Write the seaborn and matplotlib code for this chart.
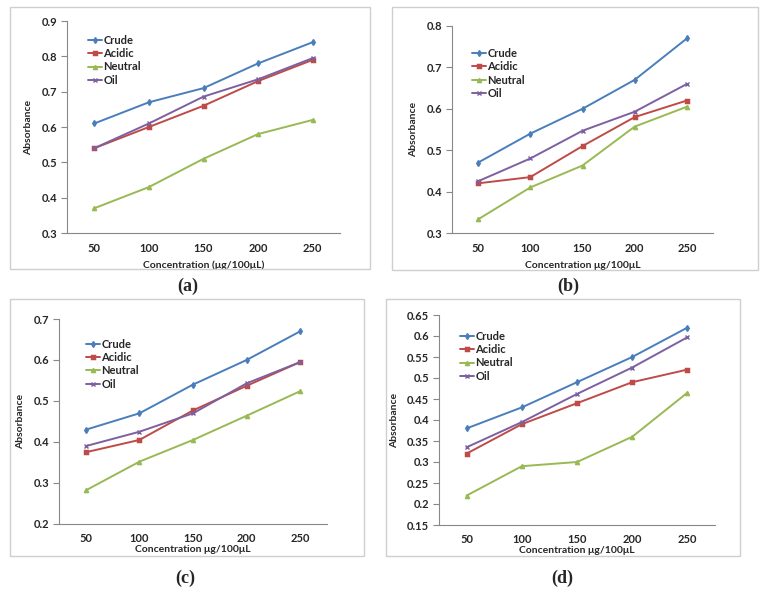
import pandas as pd
import matplotlib
matplotlib.use("Agg")
import matplotlib.pyplot as plt
from matplotlib.patches import Rectangle
from matplotlib.ticker import FuncFormatter
import seaborn as sns

sns.set_style("white")
plt.rcParams['font.family'] = ['Lato', 'DejaVu Sans']

concentrations = ["50", "100", "150", "200", "250"]
series_names = ["Crude", "Acidic", "Neutral", "Oil"]

crude_a = [0.61, 0.67, 0.71, 0.78, 0.84]
acidic_a = [0.54, 0.60, 0.66, 0.73, 0.79]
neutral_a = [0.37, 0.43, 0.51, 0.58, 0.62]
oil_a = [0.54, 0.61, 0.686, 0.735, 0.795]

crude_b = [0.47, 0.54, 0.60, 0.67, 0.77]
acidic_b = [0.42, 0.435, 0.51, 0.58, 0.62]
neutral_b = [0.333, 0.41, 0.463, 0.557, 0.605]
oil_b = [0.425, 0.48, 0.547, 0.593, 0.66]

crude_c = [0.43, 0.47, 0.54, 0.60, 0.67]
acidic_c = [0.375, 0.405, 0.477, 0.537, 0.595]
neutral_c = [0.282, 0.352, 0.405, 0.464, 0.524]
oil_c = [0.39, 0.425, 0.47, 0.543, 0.595]

crude_d = [0.38, 0.43, 0.49, 0.55, 0.62]
acidic_d = [0.32, 0.39, 0.44, 0.49, 0.52]
neutral_d = [0.22, 0.29, 0.30, 0.36, 0.465]
oil_d = [0.335, 0.395, 0.462, 0.525, 0.597]

colors = ["#4A7EBB", "#BE4B48", "#98B954", "#7D60A0"]
markers = ["d", "s", "^", "x"]

W, H = 761, 592

# panel: (data, y range, y step, xlabel, axes box px (l, t, r, b), legend anchor,
#         frame px, label, label pos, tick pad, xlabel pad)
panels = [
    ([crude_a, acidic_a, neutral_a, oil_a], (0.3, 0.9), 0.1, "Concentration (\u03bcg/100\u03bcL)",
     (67, 21, 340, 233), (0.055, 0.96), (10, 7, 370, 269), "(a)", (188, 286), 7.5, 4.5),
    ([crude_b, acidic_b, neutral_b, oil_b], (0.3, 0.8), 0.1, "Concentration \u03bcg/100\u03bcL",
     (452, 26, 713, 233), (0.055, 0.92), (392, 7, 758, 270), "(b)", (568, 286), 7.5, 4.5),
    ([crude_c, acidic_c, neutral_c, oil_c], (0.2, 0.7), 0.1, "Concentration \u03bcg/100\u03bcL",
     (59, 319, 327, 524), (0.08, 0.93), (10, 299, 364, 556), "(c)", (185, 578), 6.5, 1.0),
    ([crude_d, acidic_d, neutral_d, oil_d], (0.15, 0.65), 0.05, "Concentration \u03bcg/100\u03bcL",
     (439, 315, 715, 525), (0.055, 0.95), (386, 299, 740, 556), "(d)", (562, 578), 6.5, 1.0),
]

fig = plt.figure(figsize=(W / 100, H / 100), dpi=100)

for data, (ymin, ymax), step, xlabel, box, anchor, frame, label, lpos, tpad, xpad in panels:
    fl, ft, fr, fb = frame
    fig.patches.append(Rectangle((fl / W, 1 - fb / H), (fr - fl) / W, (fb - ft) / H,
                                 transform=fig.transFigure, fill=False,
                                 edgecolor="#cfcfcf", linewidth=1.0))
    l, t, r, b = box
    ax = fig.add_axes([l / W, 1 - b / H, (r - l) / W, (b - t) / H])

    rows = []
    for name, vals in zip(series_names, data):
        for c, v in zip(concentrations, vals):
            rows.append({"conc": c, "abs": v, "series": name})
    df = pd.DataFrame(rows)

    sns.pointplot(data=df, x="conc", y="abs", hue="series", order=concentrations,
                  hue_order=series_names, palette=colors, markers=markers,
                  linestyles="-", markersize=3, linewidth=1.4, errorbar=None, ax=ax)

    ax.set_xlim(-0.5, len(concentrations) - 0.5)
    ax.set_ylim(ymin, ymax)
    n = int(round((ymax - ymin) / step))
    ax.set_yticks([ymin + i * step for i in range(n + 1)])
    ax.yaxis.set_major_formatter(FuncFormatter(lambda v, p: f"{v:g}"))
    ax.set_xticks(range(len(concentrations)))
    ax.set_xticklabels(concentrations)
    ax.set_xticks([i - 0.5 for i in range(len(concentrations) + 1)], minor=True)
    ax.tick_params(axis="x", which="major", length=0, pad=tpad, labelsize=8)
    ax.tick_params(axis="x", which="minor", length=4, direction="out", color="#888888")
    ax.tick_params(axis="y", which="major", length=4, direction="out", color="#888888",
                   labelsize=8, pad=3, left=True)
    for lab in ax.get_xticklabels() + ax.get_yticklabels():
        lab.set_fontweight("bold")
    for s in ["top", "right"]:
        ax.spines[s].set_visible(False)
    for s in ["left", "bottom"]:
        ax.spines[s].set_color("#888888")
        ax.spines[s].set_linewidth(0.8)
    ax.set_xlabel(xlabel, fontsize=7.5, fontweight="bold", labelpad=xpad)
    ax.set_ylabel("Absorbance", fontsize=7.5, fontweight="bold", labelpad=6)

    ax.legend(loc="upper left", bbox_to_anchor=anchor, frameon=False,
              handlelength=1.3, handletextpad=0.1, labelspacing=0.2, borderpad=0,
              prop={"weight": "bold", "size": 8})

    fig.text(lpos[0] / W, 1 - lpos[1] / H, label, ha="center", va="center",
             fontsize=13, fontweight="bold", family="Liberation Serif")

fig.savefig("out.png", dpi=100, facecolor="white")
